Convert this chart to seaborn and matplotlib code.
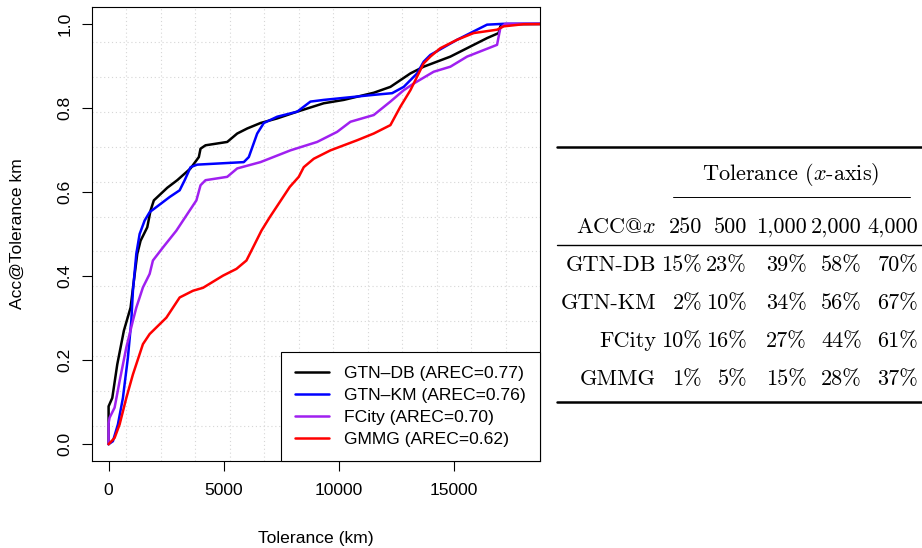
import numpy as np
import pandas as pd
import matplotlib.pyplot as plt
import seaborn as sns
from matplotlib.lines import Line2D
from matplotlib.ticker import FixedLocator

# curves: tolerance (km) -> Acc@Tolerance
db_x = [0, 0, 160, 377, 663, 954, 1097, 1245, 1388, 1678, 1821, 1964, 2546, 2979, 3556, 3916, 3990,
        4206, 5148, 5581, 6015, 6591, 7316, 8183, 9337, 10204, 11505, 12229, 13096, 13673, 14831,
        15555, 16422, 16925, 16999, 17216, 20000]
db_y = [0, 0.09, 0.11, 0.19, 0.27, 0.325, 0.389, 0.453, 0.484, 0.516, 0.556, 0.58, 0.61, 0.628,
        0.656, 0.683, 0.703, 0.711, 0.719, 0.739, 0.751, 0.764, 0.775, 0.791, 0.811, 0.819, 0.836,
        0.85, 0.882, 0.898, 0.922, 0.942, 0.966, 0.978, 0.994, 0.999, 1.0]

km_x = [0, 187, 404, 621, 838, 986, 1056, 1203, 1347, 1564, 1781, 2072, 2650, 3084, 3302, 3556, 3846,
        5867, 6084, 6448, 6735, 7316, 8183, 8760, 9337, 11505, 12303, 12806, 13387, 13673, 13963,
        15121, 15842, 16422, 17146, 20000]
km_y = [0, 0.007, 0.047, 0.11, 0.206, 0.294, 0.365, 0.453, 0.5, 0.532, 0.552, 0.564, 0.588, 0.604,
        0.628, 0.659, 0.665, 0.671, 0.683, 0.739, 0.764, 0.779, 0.791, 0.815, 0.819, 0.831, 0.835,
        0.85, 0.882, 0.91, 0.926, 0.962, 0.982, 0.998, 1.0, 1.0]

fc_x = [0, 0, 43, 261, 478, 769, 1056, 1203, 1490, 1781, 1924, 2359, 2941, 3519, 3810, 3990, 4206,
        5148, 5581, 6591, 7892, 9050, 9918, 10494, 11505, 12229, 12806, 13240, 14107, 14831, 15555,
        16856, 16999, 17216, 20000]
fc_y = [0, 0.05, 0.063, 0.087, 0.15, 0.23, 0.294, 0.325, 0.373, 0.405, 0.437, 0.468, 0.508, 0.556,
        0.58, 0.616, 0.628, 0.636, 0.656, 0.671, 0.699, 0.719, 0.743, 0.767, 0.783, 0.815, 0.842,
        0.858, 0.886, 0.898, 0.922, 0.95, 0.99, 1.0, 1.0]

gm_x = [0, 261, 478, 769, 1056, 1490, 1781, 2507, 3084, 3662, 4097, 4966, 5547, 5982, 6268, 6633,
        6994, 7428, 7862, 8252, 8469, 8903, 9627, 10785, 11505, 12229, 12663, 13096, 13456, 13673,
        13963, 14397, 15121, 15842, 16856, 17146, 18000, 20000]
gm_y = [0, 0.015, 0.047, 0.11, 0.166, 0.238, 0.262, 0.301, 0.349, 0.365, 0.372, 0.401, 0.417, 0.437,
        0.468, 0.508, 0.54, 0.576, 0.612, 0.636, 0.659, 0.679, 0.699, 0.723, 0.739, 0.759, 0.803,
        0.842, 0.882, 0.906, 0.922, 0.942, 0.962, 0.978, 0.986, 0.994, 0.999, 1.0]

methods = ['GTN\u2013DB', 'GTN\u2013KM', 'FCity', 'GMMG']
arec = [0.77, 0.76, 0.70, 0.62]
colours = ['black', '#0000FF', '#A020F0', '#FF0000']

# table on the right
tol_cols = ['250', '500', '1,000', '2,000', '4,000']
table_rows = ['GTN-DB', 'GTN-KM', 'FCity', 'GMMG']
db_pct = [15, 23, 39, 58, 70]
km_pct = [2, 10, 34, 56, 67]
fc_pct = [10, 16, 27, 44, 61]
gm_pct = [1, 5, 15, 28, 37]

curves = [(db_x, db_y), (km_x, km_y), (fc_x, fc_y), (gm_x, gm_y)]
labels = ['%s (AREC=%.2f)' % (m, a) for m, a in zip(methods, arec)]
frames = []
for lab, (xs, ys) in zip(labels, curves):
    frames.append(pd.DataFrame({'tol': xs, 'acc': ys, 'method': lab}))
df = pd.concat(frames, ignore_index=True)

sns.set_style('white')
plt.rcParams['font.family'] = ['Liberation Sans', 'DejaVu Sans']
plt.rcParams['mathtext.fontset'] = 'cm'
plt.rcParams['text.color'] = 'black'
plt.rcParams['axes.labelcolor'] = 'black'
plt.rcParams['xtick.color'] = 'black'
plt.rcParams['ytick.color'] = 'black'

W, H = 922, 548
fig = plt.figure(figsize=(W / 100, H / 100), dpi=100)
ax = fig.add_axes([92 / W, 1 - 461 / H, 448 / W, 454 / H])

sns.lineplot(data=df, x='tol', y='acc', hue='method', hue_order=labels,
             palette=dict(zip(labels, colours)), sort=False, estimator=None,
             linewidth=1.8, ax=ax)

ax.set_xlim(-720, 18720)
ax.set_ylim(-0.04, 1.04)

# R style grid(13, 13): dotted lines splitting the whole region
xl, yl = ax.get_xlim(), ax.get_ylim()
ax.xaxis.set_minor_locator(FixedLocator(np.linspace(xl[0], xl[1], 14)[1:-1]))
ax.yaxis.set_minor_locator(FixedLocator(np.linspace(yl[0], yl[1], 14)[1:-1]))
ax.grid(False, which='major')
ax.grid(True, which='minor', color='#d6d6d6', linestyle=(0, (1, 2.5)), linewidth=0.8)
ax.set_axisbelow(True)

ax.set_xticks([0, 5000, 10000, 15000])
ax.set_xticklabels(['0', '5000', '10000', '15000'])
ax.set_yticks([0, 0.2, 0.4, 0.6, 0.8, 1.0])
ax.set_yticklabels(['0.0', '0.2', '0.4', '0.6', '0.8', '1.0'], rotation=90, va='center')
ax.tick_params(which='major', bottom=True, left=True, direction='out', length=7, width=0.8,
               labelsize=12.6, color='black', labelcolor='black')
ax.tick_params(axis='x', pad=9)
ax.tick_params(axis='y', pad=7)
ax.tick_params(which='minor', bottom=False, left=False, length=0)
for s in ax.spines.values():
    s.set_visible(True)
    s.set_color('black')
    s.set_linewidth(0.8)

ax.set_xlabel('Tolerance (km)', fontsize=12.6, va='center')
ax.set_ylabel('Acc@Tolerance km', fontsize=12.6, va='center')
ax.xaxis.set_label_coords(0.5, -(538 - 461) / 454)
ax.yaxis.set_label_coords(-(92 - 17) / 448, 0.5)

leg = ax.legend(loc='lower right', borderaxespad=0, fancybox=False, framealpha=1,
                edgecolor='black', fontsize=12.6, handlelength=1.95, handletextpad=0.85,
                labelspacing=0.38, borderpad=0.8)
leg.get_frame().set_linewidth(0.8)

# booktabs-like table drawn with figure text
def fx(x):
    return x / W

def fy(y):
    return 1 - y / H

tfont = dict(family='cmr10', fontsize=16)

def rule(x0, x1, y, lw):
    fig.add_artist(Line2D([fx(x0), fx(x1)], [fy(y), fy(y)], color='black', lw=lw,
                          transform=fig.transFigure))

rule(557, 922, 147, 1.8)
rule(673, 910, 197, 0.7)
rule(557, 922, 245, 1.0)
rule(557, 922, 402, 1.8)

fig.text(fx(791), fy(175), 'Tolerance ($x$-axis)', ha='center', va='center', **tfont)
col_right = [702, 747, 807, 862, 918]
row_y = [265, 303, 341, 379]
fig.text(fx(656), fy(227), 'ACC@$x$', ha='right', va='center', **tfont)
for cx, c in zip(col_right, tol_cols):
    fig.text(fx(cx), fy(227), c, ha='right', va='center', **tfont)
for ry, name, vals in zip(row_y, table_rows, [db_pct, km_pct, fc_pct, gm_pct]):
    fig.text(fx(656), fy(ry), name, ha='right', va='center', **tfont)
    for cx, v in zip(col_right, vals):
        fig.text(fx(cx), fy(ry), '%d%%' % v, ha='right', va='center', **tfont)

fig.savefig('out.png', dpi=100)
